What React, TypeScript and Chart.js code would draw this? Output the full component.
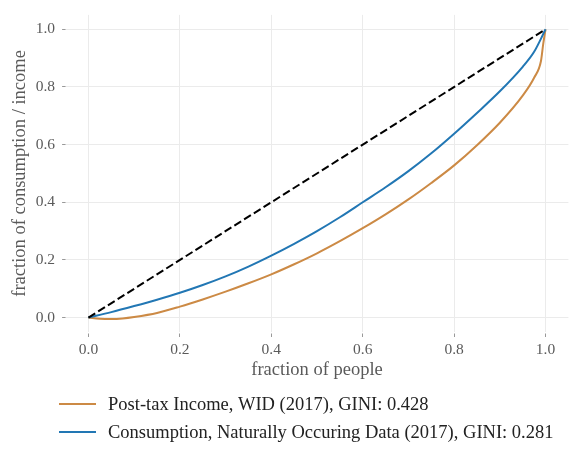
import { useEffect, useRef } from "react";
import { Chart, registerables } from "chart.js";

Chart.register(...registerables);

// ---------- data ----------
const xTicks = [0, 0.2, 0.4, 0.6, 0.8, 1.0];
const yTicks = [0, 0.2, 0.4, 0.6, 0.8, 1.0];

const incomeLabel = "Post-tax Income, WID (2017), GINI: 0.428";
const consLabel = "Consumption, Naturally Occuring Data (2017), GINI: 0.281";

const incomeX = [0, 0.025, 0.05, 0.075, 0.1, 0.15, 0.2, 0.25, 0.3, 0.35, 0.4, 0.45, 0.5, 0.55, 0.6, 0.65, 0.7, 0.75, 0.8, 0.85, 0.9, 0.95, 0.975, 0.99, 0.995, 1.0];
const incomeY = [0, -0.004, -0.005, -0.003, 0.002, 0.016, 0.038, 0.063, 0.09, 0.119, 0.15, 0.185, 0.223, 0.265, 0.31, 0.358, 0.41, 0.467, 0.528, 0.598, 0.676, 0.77, 0.832, 0.89, 0.95, 1.0];

const consX = [0, 0.05, 0.1, 0.15, 0.2, 0.25, 0.3, 0.35, 0.4, 0.45, 0.5, 0.55, 0.6, 0.65, 0.7, 0.75, 0.8, 0.85, 0.9, 0.95, 0.975, 1.0];
const consY = [0, 0.019, 0.04, 0.062, 0.086, 0.113, 0.143, 0.177, 0.215, 0.256, 0.3, 0.348, 0.4, 0.452, 0.508, 0.57, 0.638, 0.71, 0.785, 0.87, 0.922, 1.0];

const equalX = [0, 1];
const equalY = [0, 1];

// ---------- styles ----------
const FONT = "'Liberation Serif', 'DejaVu Serif', serif";
const ORANGE = "#cc8a45";
const BLUE = "#2277b4";
const GRID = "#ebebeb";
const TEXT_GRAY = "#5a5a5a";

const pairs = (xs: number[], ys: number[]) => xs.map((x, i) => ({ x, y: ys[i] }));

const legendPlugin = {
  id: "stackedLegend",
  afterDraw(chart: any) {
    const ctx = chart.ctx as CanvasRenderingContext2D;
    const items = chart.data.datasets.filter((d: any) => d.inLegend);
    const x0 = 59;
    const lineLen = 37;
    const textX = 108;
    const y0 = 404;
    const rowH = 28;
    ctx.save();
    ctx.font = `18.5px ${FONT}`;
    ctx.textBaseline = "middle";
    ctx.textAlign = "left";
    items.forEach((d: any, i: number) => {
      const y = y0 + i * rowH;
      ctx.strokeStyle = d.borderColor;
      ctx.lineWidth = 2;
      ctx.setLineDash([]);
      ctx.beginPath();
      ctx.moveTo(x0, y);
      ctx.lineTo(x0 + lineLen, y);
      ctx.stroke();
      ctx.fillStyle = "#222222";
      ctx.fillText(d.label, textX, y + 1);
    });
    ctx.restore();
  },
};

export default function App() {
  const ref = useRef<HTMLCanvasElement | null>(null);

  useEffect(() => {
    document.body.style.margin = "0";
    const canvas = ref.current;
    if (!canvas) return;
    const chart = new Chart(canvas, {
      type: "line",
      data: {
        datasets: [
          {
            label: incomeLabel,
            data: pairs(incomeX, incomeY),
            borderColor: ORANGE,
            backgroundColor: ORANGE,
            borderWidth: 2,
            pointRadius: 0,
            cubicInterpolationMode: "monotone",
            fill: false,
            order: 3,
            inLegend: true,
          } as any,
          {
            label: consLabel,
            data: pairs(consX, consY),
            borderColor: BLUE,
            backgroundColor: BLUE,
            borderWidth: 2,
            pointRadius: 0,
            cubicInterpolationMode: "monotone",
            fill: false,
            order: 2,
            inLegend: true,
          } as any,
          {
            label: "equality",
            data: pairs(equalX, equalY),
            borderColor: "#000000",
            backgroundColor: "#000000",
            borderWidth: 2,
            borderDash: [8, 3.5],
            pointRadius: 0,
            fill: false,
            order: 1,
            inLegend: false,
          } as any,
        ],
      },
      options: {
        animation: false,
        responsive: false,
        events: [],
        layout: { padding: { left: 0, right: 8.6, top: 6.2, bottom: 58 } },
        plugins: {
          legend: { display: false },
          tooltip: { enabled: false },
        },
        scales: {
          x: {
            type: "linear",
            min: -0.05,
            max: 1.05,
            afterBuildTicks: (axis: any) => {
              axis.ticks = xTicks.map((v) => ({ value: v }));
            },
            afterFit: (axis: any) => {
              axis.height = 60;
            },
            border: { display: false },
            grid: {
              color: GRID,
              lineWidth: 1,
              drawTicks: true,
              tickLength: 5,
              tickColor: "#999999",
              tickBorderDash: [0, 1.5, 3.5, 20],
            } as any,
            ticks: {
              padding: 4,
              color: TEXT_GRAY,
              font: { family: FONT, size: 15.5 },
              callback: (v: any) => Number(v).toFixed(1),
            },
            title: {
              display: true,
              text: "fraction of people",
              color: TEXT_GRAY,
              font: { family: FONT, size: 18.5 },
              padding: { top: 0, bottom: 10.7 },
            },
          },
          y: {
            type: "linear",
            min: -0.05,
            max: 1.05,
            afterBuildTicks: (axis: any) => {
              axis.ticks = yTicks.map((v) => ({ value: v }));
            },
            afterFit: (axis: any) => {
              axis.width = 65.6;
            },
            border: { display: false },
            grid: {
              color: GRID,
              lineWidth: 1,
              drawTicks: true,
              tickLength: 5,
              tickColor: "#999999",
              tickBorderDash: [0, 1.5, 3.5, 20],
            } as any,
            ticks: {
              padding: 5.6,
              color: TEXT_GRAY,
              font: { family: FONT, size: 15.5 },
              callback: (v: any) => Number(v).toFixed(1),
            },
            title: {
              display: true,
              text: "fraction of consumption / income",
              color: TEXT_GRAY,
              font: { family: FONT, size: 18.5 },
              padding: { top: 8.9, bottom: 0 },
            },
          },
        },
      },
      plugins: [legendPlugin],
    });
    return () => chart.destroy();
  }, []);

  return <canvas ref={ref} width={577} height={450} style={{ display: "block" }} />;
}
